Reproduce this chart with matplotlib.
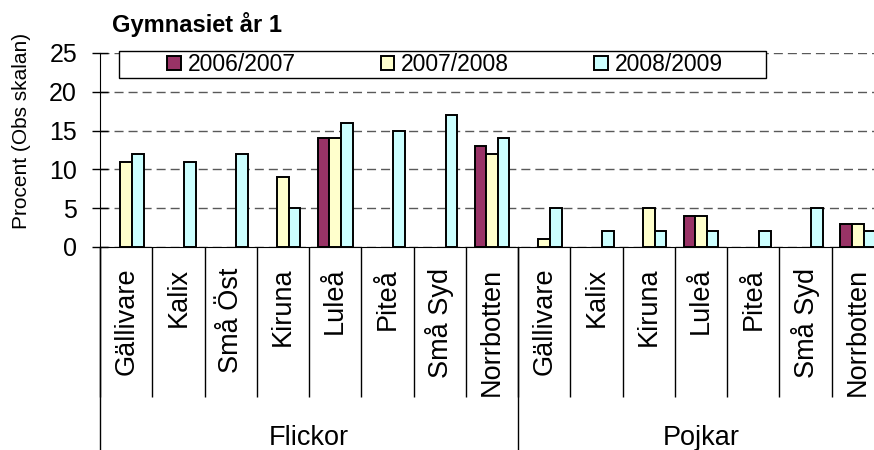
import numpy as np
import matplotlib.pyplot as plt
from matplotlib.patches import Rectangle
from matplotlib.transforms import blended_transform_factory

plt.rcParams['font.family'] = ['Liberation Sans', 'DejaVu Sans']

# data
groups = ["Flickor", "Pojkar"]
flickor = ["Gällivare", "Kalix", "Små Öst", "Kiruna", "Luleå", "Piteå", "Små Syd", "Norrbotten"]
pojkar = ["Gällivare", "Kalix", "Kiruna", "Luleå", "Piteå", "Små Syd", "Norrbotten"]
categories = flickor + pojkar

series = ["2006/2007", "2007/2008", "2008/2009"]
v2006 = [0, 0, 0, 0, 14, 0, 0, 13, 0, 0, 0, 4, 0, 0, 3]
v2007 = [11, 0, 0, 9, 14, 0, 0, 12, 1, 0, 5, 4, 0, 0, 3]
v2008 = [12, 11, 12, 5, 16, 15, 17, 14, 5, 2, 2, 2, 2, 5, 2]
colors = ["#993366", "#FFFFCC", "#CCFFFF"]

W, H = 874, 450
fig = plt.figure(figsize=(W / 100, H / 100), dpi=100)
ax = fig.add_axes([100 / W, 203 / H, 784 / W, 194 / H])

x = np.arange(len(categories))
w = 1 / 4.5
handles = []
for k, (vals, col, lab) in enumerate(zip([v2006, v2007, v2008], colors, series)):
    vals = np.array(vals, dtype=float)
    m = vals > 0
    b = ax.bar(x[m] + (k - 1) * w, vals[m], width=w, color=col,
               edgecolor="black", linewidth=1.4, label=lab, zorder=2)
    handles.append(b)

ax.set_xlim(-0.5, len(categories) - 0.5)
ax.set_ylim(0, 25)
ax.set_yticks([0, 5, 10, 15, 20, 25])
ax.tick_params(axis="y", direction="inout", length=12, width=1, pad=10.5,
               labelsize=18)
ax.set_axisbelow(True)
ax.yaxis.grid(True, color="0.35", linewidth=1, linestyle=(0, (6.5, 3.6)))

for s in ["top", "right"]:
    ax.spines[s].set_visible(False)

# category labels and separators
ax.set_xticks(x, categories, rotation=90, fontsize=19.5)
ax.tick_params(axis="x", which="major", length=0, pad=15)
ax.set_xticks(np.arange(-0.5, len(categories)), minor=True)
ax.tick_params(axis="x", which="minor", direction="out", length=108, width=1)

# group separators and labels
trans = blended_transform_factory(ax.transData, fig.transFigure)
for xb in [-0.5, len(flickor) - 0.5, len(categories) - 0.5]:
    ax.plot([xb, xb], [0, 203 / H], transform=trans, color="black",
            linewidth=1, clip_on=False)
ax.text((len(flickor) - 1) / 2, 5 / H, groups[0], transform=trans,
        ha="center", va="baseline", fontsize=19.5)
ax.text(len(flickor) + (len(pojkar) - 1) / 2, 5 / H, groups[1], transform=trans,
        ha="center", va="baseline", fontsize=19.5)

# legend box
rect = Rectangle((119 / W, 1 - 78 / H), 647 / W, 27 / H, transform=fig.transFigure,
                 facecolor="white", edgecolor="black", linewidth=1, zorder=4)
fig.add_artist(rect)
leg = fig.legend(handles, series, loc="center", bbox_to_anchor=(445 / W, 1 - 64.5 / H),
                 ncol=3, frameon=False, fontsize=16.5, columnspacing=3.7,
                 handlelength=0.6, handleheight=0.6, handletextpad=0.3)
leg.set_zorder(6)

fig.text(112 / W, 1 - 32 / H, "Gymnasiet år 1", fontsize=17, fontweight="bold",
         va="baseline")
fig.text(22 / W, 1 - 131 / H, "Procent (Obs skalan)", rotation=90, ha="center",
         va="center", fontsize=15)

fig.savefig("out.png", dpi=100)
